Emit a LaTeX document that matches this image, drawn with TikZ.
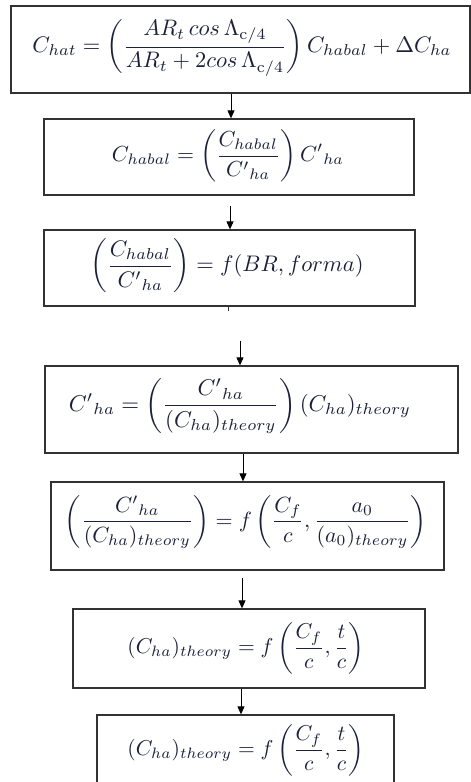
\documentclass[tikz,border=0pt]{standalone}
\usepackage{amsmath}
\usepackage{graphicx}
\usetikzlibrary{arrows.meta}
\definecolor{ink}{RGB}{28,32,58}
\definecolor{frame}{RGB}{50,50,50}
\newcommand{\eqfit}[2]{\resizebox{#1}{!}{$\displaystyle #2$}}
\begin{document}
\begin{tikzpicture}[x=1pt,y=-1pt,
  boxnode/.style={draw=frame, line width=1.3pt, rectangle, inner sep=0pt},
  eq/.style={text=ink, inner sep=0pt},
  arr/.style={draw=black, line width=0.9pt, -{Triangle[length=8pt,width=7pt]}}]
\useasboundingbox (0,0) rectangle (471,782);
\clip (0,0) rectangle (471,782);
\fill[white] (0,0) rectangle (471,782);
% boxes
\node[boxnode, minimum width=459pt, minimum height=87pt] (b1) at (240.5,49.5) {};
\node[boxnode, minimum width=370pt, minimum height=76pt] (b2) at (229,157) {};
\node[boxnode, minimum width=371pt, minimum height=76pt] (b3) at (229.5,268) {};
\node[boxnode, minimum width=413pt, minimum height=87pt] (b4) at (251.5,409.5) {};
\node[boxnode, minimum width=393pt, minimum height=88pt] (b5) at (247.5,526) {};
\node[boxnode, minimum width=352pt, minimum height=79pt] (b6) at (249,648.5) {};
\node[boxnode, minimum width=297pt, minimum height=90pt] (b7) at (245.5,760) {};
% equations
\node[eq] (t1) at (242,48) {\eqfit{419pt}{C_{hat} = \left(\frac{AR_t\,cos\,\Lambda_{\mathrm{c/4}}}{AR_t + 2cos\,\Lambda_{\mathrm{c/4}}}\right) C_{habal} + \Delta C_{ha}}};
\node[eq] (t2) at (228,156) {\eqfit{232pt}{C_{habal} = \left(\frac{C_{habal}}{C'{}_{ha}}\right) C'{}_{ha}}};
\node[eq] (t3) at (227,266) {\eqfit{273pt}{\left(\frac{C_{habal}}{C'{}_{ha}}\right) = f(BR, forma)}};
\node[eq] (t4) at (240,406) {\eqfit{342pt}{C'{}_{ha} = \left(\frac{C'{}_{ha}}{(C_{ha})_{theory}}\right)(C_{ha})_{theory}}};
\node[eq] (t5) at (246,522) {\eqfit{362pt}{\left(\frac{C'{}_{ha}}{(C_{ha})_{theory}}\right) = f\left(\frac{C_f}{c}, \frac{a_0}{(a_0)_{theory}}\right)}};
\node[eq] (t6) at (246,648) {\eqfit{237pt}{(C_{ha})_{theory} = f\left(\frac{C_f}{c}, \frac{t}{c}\right)}};
\node[eq] (t7) at (246,750) {\eqfit{237pt}{(C_{ha})_{theory} = f\left(\frac{C_f}{c}, \frac{t}{c}\right)}};
% connectors
\draw[arr] (b1.south -| 231,0) -- (b2.north -| 231,0);
\draw[arr, shorten <=10pt] (b2.south -| 230,0) -- (b3.north -| 230,0);
\draw[line width=0.8pt, draw=frame] (b3.south -| 228,0) -- ++(0,4);
\draw[arr, shorten <=34pt] (b3.south -| 240,0) -- (b4.north -| 240,0);
\draw[arr] (b4.south -| 243,0) -- (b5.north -| 243,0);
\draw[arr, shorten <=7pt] (b5.south -| 242,0) -- (b6.north -| 242,0);
\draw[arr] (b6.south -| 241,0) -- (b7.north -| 241,0);
\end{tikzpicture}
\end{document}
